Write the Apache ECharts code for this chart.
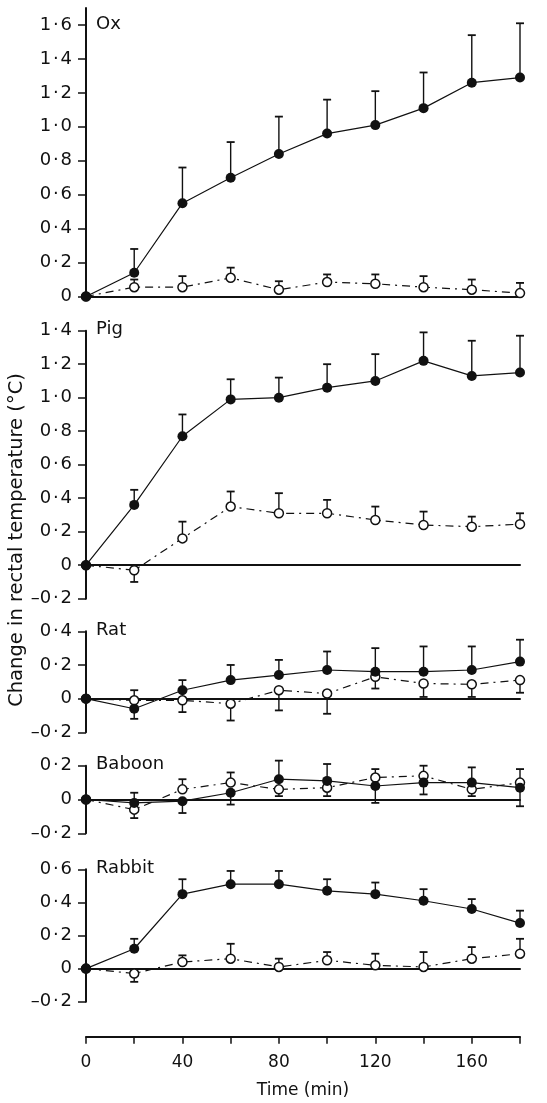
<!DOCTYPE html>
<html>
<head>
<meta charset="utf-8">
<script src="https://cdn.jsdelivr.net/npm/echarts@6/dist/echarts.min.js"></script>
<style>
  html, body { margin: 0; padding: 0; background: #fff; }
  #main { width: 547px; height: 1103px; }
</style>
</head>
<body>
<div id="main"></div>
<script>
// time points (min)
var times = [0, 20, 40, 60, 80, 100, 120, 140, 160, 180];
var timeLabels = [0, 40, 80, 120, 160];

// Ox
var oxFilled = [0, 0.14, 0.55, 0.70, 0.84, 0.96, 1.01, 1.11, 1.26, 1.29];
var oxFilledErr = [null, 0.28, 0.76, 0.91, 1.06, 1.16, 1.21, 1.32, 1.54, 1.61];
var oxOpen = [0, 0.055, 0.055, 0.11, 0.04, 0.085, 0.075, 0.055, 0.04, 0.02];
var oxOpenErr = [null, 0.10, 0.12, 0.17, 0.09, 0.13, 0.13, 0.12, 0.10, 0.08];
var oxTicks = [0, 0.2, 0.4, 0.6, 0.8, 1.0, 1.2, 1.4, 1.6];

// Pig
var pigFilled = [0, 0.36, 0.77, 0.99, 1.00, 1.06, 1.10, 1.22, 1.13, 1.15];
var pigFilledErr = [null, 0.45, 0.90, 1.11, 1.12, 1.20, 1.26, 1.39, 1.34, 1.37];
var pigOpen = [0, -0.03, 0.16, 0.35, 0.31, 0.31, 0.27, 0.24, 0.23, 0.245];
var pigOpenErr = [null, -0.10, 0.26, 0.44, 0.43, 0.39, 0.35, 0.32, 0.29, 0.31];
var pigTicks = [-0.2, 0, 0.2, 0.4, 0.6, 0.8, 1.0, 1.2, 1.4];

// Rat
var ratFilled = [0, -0.06, 0.05, 0.11, 0.14, 0.17, 0.16, 0.16, 0.17, 0.22];
var ratFilledErr = [null, -0.12, 0.11, 0.20, 0.23, 0.28, 0.30, 0.31, 0.31, 0.35];
var ratOpen = [0, -0.01, -0.01, -0.03, 0.05, 0.03, 0.13, 0.09, 0.085, 0.11];
var ratOpenErr = [null, 0.05, -0.08, -0.13, -0.07, -0.09, 0.06, 0.01, 0.01, 0.035];
var ratTicks = [-0.2, 0, 0.2, 0.4];

// Baboon
var babFilled = [0, -0.02, -0.01, 0.04, 0.12, 0.11, 0.08, 0.10, 0.10, 0.07];
var babFilledErr = [null, 0.04, -0.08, -0.03, 0.23, 0.21, -0.02, 0.03, 0.19, -0.04];
var babOpen = [0, -0.06, 0.06, 0.10, 0.06, 0.07, 0.13, 0.14, 0.06, 0.10];
var babOpenErr = [null, -0.11, 0.12, 0.16, 0.02, 0.02, 0.18, 0.20, 0.02, 0.18];
var babTicks = [-0.2, 0, 0.2];

// Rabbit
var rabFilled = [0, 0.12, 0.45, 0.51, 0.51, 0.47, 0.45, 0.41, 0.36, 0.275];
var rabFilledErr = [null, 0.18, 0.54, 0.59, 0.59, 0.54, 0.52, 0.48, 0.42, 0.35];
var rabOpen = [0, -0.03, 0.04, 0.06, 0.01, 0.05, 0.02, 0.01, 0.06, 0.09];
var rabOpenErr = [null, -0.08, 0.08, 0.15, 0.06, 0.10, 0.09, 0.10, 0.13, 0.18];
var rabTicks = [-0.2, 0, 0.2, 0.4, 0.6];

var panels = [
    {name: 'Ox', filled: oxFilled, fErr: oxFilledErr, open: oxOpen, oErr: oxOpenErr, ticks: oxTicks, min: 0, max: 1.7, top: 8, height: 288.5, labelY: 25},
    {name: 'Pig', filled: pigFilled, fErr: pigFilledErr, open: pigOpen, oErr: pigOpenErr, ticks: pigTicks, min: -0.2, max: 1.4, top: 330.7, height: 268},
    {name: 'Rat', filled: ratFilled, fErr: ratFilledErr, open: ratOpen, oErr: ratOpenErr, ticks: ratTicks, min: -0.2, max: 0.4, top: 631.3, height: 101},
    {name: 'Baboon', filled: babFilled, fErr: babFilledErr, open: babOpen, oErr: babOpenErr, ticks: babTicks, min: -0.2, max: 0.2, top: 765.7, height: 67.6},
    {name: 'Rabbit', filled: rabFilled, fErr: rabFilledErr, open: rabOpen, oErr: rabOpenErr, ticks: rabTicks, min: -0.2, max: 0.6, top: 869.3, height: 132.4}
];

var FONT = 'DejaVu Sans';
var LEFT = 86, RIGHT = 27;

// 1·6 style labels, dash for negatives
function fmtTick(v) {
    if (Math.abs(v) < 1e-9) return '0';
    var s = Math.abs(v).toFixed(1).replace('.', '\u200a\u00b7\u200a');
    return (v < 0 ? '\u2013' : '') + s;
}

function pairs(vals) {
    return times.map(function (t, i) { return [t, vals[i]]; });
}

function errData(vals, errs) {
    var out = [];
    times.forEach(function (t, i) {
        if (errs[i] !== null) out.push([t, vals[i], errs[i]]);
    });
    return out;
}

// one-sided error bar with a cap at its end
function renderErr(params, api) {
    var x = api.value(0);
    var p0 = api.coord([x, api.value(1)]);
    var p1 = api.coord([x, api.value(2)]);
    var w = 4;
    return {
        type: 'group',
        children: [
            {type: 'line', shape: {x1: p0[0], y1: p0[1], x2: p1[0], y2: p1[1]}, style: {stroke: '#111', lineWidth: 1.4}},
            {type: 'line', shape: {x1: p1[0] - w, y1: p1[1], x2: p1[0] + w, y2: p1[1]}, style: {stroke: '#111', lineWidth: 1.8}}
        ]
    };
}

var grids = [], xAxes = [], yAxes = [], series = [], graphics = [];

panels.forEach(function (p, i) {
    grids.push({left: LEFT, right: RIGHT, top: p.top, height: p.height});
    xAxes.push({
        gridIndex: i, type: 'value', min: 0, max: 180,
        axisLine: {show: true, onZero: true, lineStyle: {color: '#111', width: 2}},
        axisTick: {show: false}, axisLabel: {show: false}, splitLine: {show: false}
    });
    yAxes.push({
        gridIndex: i, type: 'value', min: p.min, max: p.max,
        axisLine: {show: true, lineStyle: {color: '#111', width: 2}},
        axisTick: {show: true, length: 8, customValues: p.ticks, lineStyle: {color: '#111', width: 1.5}},
        axisLabel: {customValues: p.ticks, formatter: fmtTick, margin: 14, color: '#111', fontFamily: FONT, fontSize: 18},
        splitLine: {show: false}
    });
    series.push({
        type: 'custom', xAxisIndex: i, yAxisIndex: i, renderItem: renderErr,
        data: errData(p.filled, p.fErr), encode: {x: 0, y: [1, 2]}, z: 1, silent: true
    });
    series.push({
        type: 'custom', xAxisIndex: i, yAxisIndex: i, renderItem: renderErr,
        data: errData(p.open, p.oErr), encode: {x: 0, y: [1, 2]}, z: 1, silent: true
    });
    series.push({
        type: 'line', xAxisIndex: i, yAxisIndex: i, data: pairs(p.open),
        symbol: 'circle', symbolSize: 9, z: 3,
        itemStyle: {color: '#fff', borderColor: '#111', borderWidth: 1.5},
        lineStyle: {color: '#111', width: 1.2, type: [8, 5, 2, 5]},
        animation: false
    });
    series.push({
        type: 'line', xAxisIndex: i, yAxisIndex: i, data: pairs(p.filled),
        symbol: 'circle', symbolSize: 10, z: 4,
        itemStyle: {color: '#111'},
        lineStyle: {color: '#111', width: 1.2},
        animation: false
    });
    graphics.push({
        type: 'text', left: 96, top: (p.labelY || p.top) - 10,
        style: {text: p.name, fontFamily: FONT, fontSize: 18, fill: '#111'}
    });
});

// bottom time axis
grids.push({left: LEFT, right: RIGHT, top: 1035.7, height: 1});
xAxes.push({
    gridIndex: 5, type: 'value', min: 0, max: 180, interval: 20,
    name: 'Time (min)', nameLocation: 'middle', nameGap: 45,
    nameTextStyle: {color: '#111', fontFamily: FONT, fontSize: 17},
    axisLine: {show: true, onZero: false, lineStyle: {color: '#111', width: 2}},
    axisTick: {show: true, length: 7, lineStyle: {color: '#111', width: 1.5}},
    axisLabel: {
        color: '#111', fontFamily: FONT, fontSize: 17, margin: 17,
        formatter: function (v) { return timeLabels.indexOf(v) >= 0 ? String(v) : ''; }
    },
    splitLine: {show: false}
});
yAxes.push({gridIndex: 5, type: 'value', show: false});

graphics.push({
    type: 'text', x: 17, y: 540, rotation: Math.PI / 2,
    style: {
        text: 'Change in rectal temperature (\u00b0C)', fontFamily: FONT, fontSize: 19.5, fill: '#111',
        textAlign: 'center', textVerticalAlign: 'middle'
    }
});

var myChart = echarts.init(document.getElementById('main'));
myChart.setOption({
    animation: false,
    backgroundColor: '#fff',
    grid: grids,
    xAxis: xAxes,
    yAxis: yAxes,
    series: series,
    graphic: graphics
});
</script>
</body>
</html>
